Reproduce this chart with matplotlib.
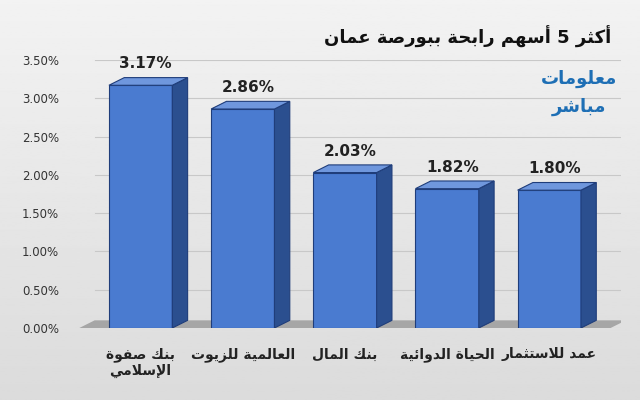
import matplotlib
matplotlib.use("Agg")
import matplotlib.pyplot as plt
from matplotlib.patches import Polygon
import numpy as np

categories = ["بنك صفوة\nالإسلامي", "العالمية للزيوت", "بنك المال", "الحياة الدوائية", "عمد للاستثمار"]
values = [3.17, 2.86, 2.03, 1.82, 1.80]
title = "أكثر 5 أسهم رابحة ببورصة عمان"

F = {'ا':(0xFE8D,0xFE8E,None,None),'أ':(0xFE83,0xFE84,None,None),'إ':(0xFE87,0xFE88,None,None),
'ب':(0xFE8F,0xFE90,0xFE91,0xFE92),'ة':(0xFE93,0xFE94,None,None),'ت':(0xFE95,0xFE96,0xFE97,0xFE98),
'ث':(0xFE99,0xFE9A,0xFE9B,0xFE9C),'ح':(0xFEA1,0xFEA2,0xFEA3,0xFEA4),'د':(0xFEA9,0xFEAA,None,None),
'ر':(0xFEAD,0xFEAE,None,None),'ز':(0xFEAF,0xFEB0,None,None),'س':(0xFEB1,0xFEB2,0xFEB3,0xFEB4),
'ش':(0xFEB5,0xFEB6,0xFEB7,0xFEB8),'ص':(0xFEB9,0xFEBA,0xFEBB,0xFEBC),'ع':(0xFEC9,0xFECA,0xFECB,0xFECC),
'ف':(0xFED1,0xFED2,0xFED3,0xFED4),'ق':(0xFED5,0xFED6,0xFED7,0xFED8),'ك':(0xFED9,0xFEDA,0xFEDB,0xFEDC),
'ل':(0xFEDD,0xFEDE,0xFEDF,0xFEE0),'م':(0xFEE1,0xFEE2,0xFEE3,0xFEE4),'ن':(0xFEE5,0xFEE6,0xFEE7,0xFEE8),
'ه':(0xFEE9,0xFEEA,0xFEEB,0xFEEC),'و':(0xFEED,0xFEEE,None,None),'ي':(0xFEF1,0xFEF2,0xFEF3,0xFEF4),
'ئ':(0xFE89,0xFE8A,0xFE8B,0xFE8C)}
LA = {'ا':(0xFEFB,0xFEFC),'أ':(0xFEF7,0xFEF8),'إ':(0xFEF9,0xFEFA)}

def shape_line(s):
    out = []
    i = 0
    chars = list(s)
    n = len(chars)
    def joins_next(c):
        return c in F and F[c][2] is not None
    while i < n:
        c = chars[i]
        if c not in F:
            out.append(c); i += 1; continue
        prev = chars[i-1] if i > 0 else None
        pj = prev is not None and joins_next(prev)
        if c == 'ل' and i+1 < n and chars[i+1] in LA:
            out.append(chr(LA[chars[i+1]][1 if pj else 0])); i += 2; continue
        nxt = chars[i+1] if i+1 < n else None
        nj = nxt in F and joins_next(c)
        iso, fin, ini, med = F[c]
        if pj and nj: g = med
        elif pj: g = fin
        elif nj: g = ini
        else: g = iso
        out.append(chr(g)); i += 1
    return "".join(out[::-1])

def shape(s):
    return "\n".join(shape_line(l) for l in s.split("\n"))

fig = plt.figure(figsize=(6.4, 4.0), dpi=100)
bg = fig.add_axes([0, 0, 1, 1]); bg.axis('off')
grad = np.linspace(0.95, 0.86, 256).reshape(-1, 1)
bg.imshow(grad, cmap='gray', vmin=0, vmax=1, aspect='auto', extent=[0, 1, 0, 1])
ax = fig.add_axes([0.1, 0.18, 0.87, 0.67])
ax.set_facecolor('none')
for s in ax.spines.values(): s.set_visible(False)
x = np.arange(len(values))
w = 0.62
dx, dy = 0.15, 0.1
n = len(values)
for v in np.arange(0, 3.51, 0.5):
    ax.plot([-0.6+dx, n-0.4+dx], [v, v], color='#c8c8c8', lw=0.8, zorder=0)
# floor
ax.add_patch(Polygon([(-0.6, 0), (n-0.4, 0), (n-0.4+dx, dy), (-0.6+dx, dy)],
                     closed=True, fc='#a6a6a6', ec='none', zorder=1))
for xi, v in zip(x, values):
    l, r = xi - w/2, xi + w/2
    ax.bar(xi, v, w, color='#4a7bd0', edgecolor='#1f3d7a', lw=0.8, zorder=3)
    ax.add_patch(Polygon([(r, 0), (r+dx, dy), (r+dx, v+dy), (r, v)], fc='#2b4f8f', ec='#1f3d7a', lw=0.8, zorder=3))
    ax.add_patch(Polygon([(l, v), (l+dx, v+dy), (r+dx, v+dy), (r, v)], fc='#6f97dd', ec='#1f3d7a', lw=0.8, zorder=3))
    ax.text(xi+0.05, v+dy+0.08, f"{v:.2f}%", ha='center', va='bottom', fontsize=11, fontweight='bold', color='#222222', zorder=4)
ax.set_xlim(-0.75, n-0.3)
ax.set_ylim(0, 3.5)
ax.set_yticks(np.arange(0, 3.51, 0.5))
ax.set_yticklabels([f"{v:.2f}%" for v in np.arange(0, 3.51, 0.5)], fontsize=8.5, color='#333333')
ax.tick_params(length=0)
ax.set_xticks(x)
ax.set_xticklabels([shape(c) for c in categories], fontsize=10, fontweight='bold', color='#222222', family='DejaVu Sans')
ax.tick_params(axis='x', pad=14)
fig.text(0.73, 0.89, shape(title), ha='center', fontsize=13, fontweight='bold', color='#111111', family='DejaVu Sans')
fig.text(0.905, 0.79, shape("معلومات"), ha='center', fontsize=13, fontweight='bold', color='#1e6fb5', family='DejaVu Sans')
fig.text(0.905, 0.72, shape("مباشر"), ha='center', fontsize=13, fontweight='bold', color='#1e6fb5', family='DejaVu Sans')
fig.savefig("out.png", dpi=100)
